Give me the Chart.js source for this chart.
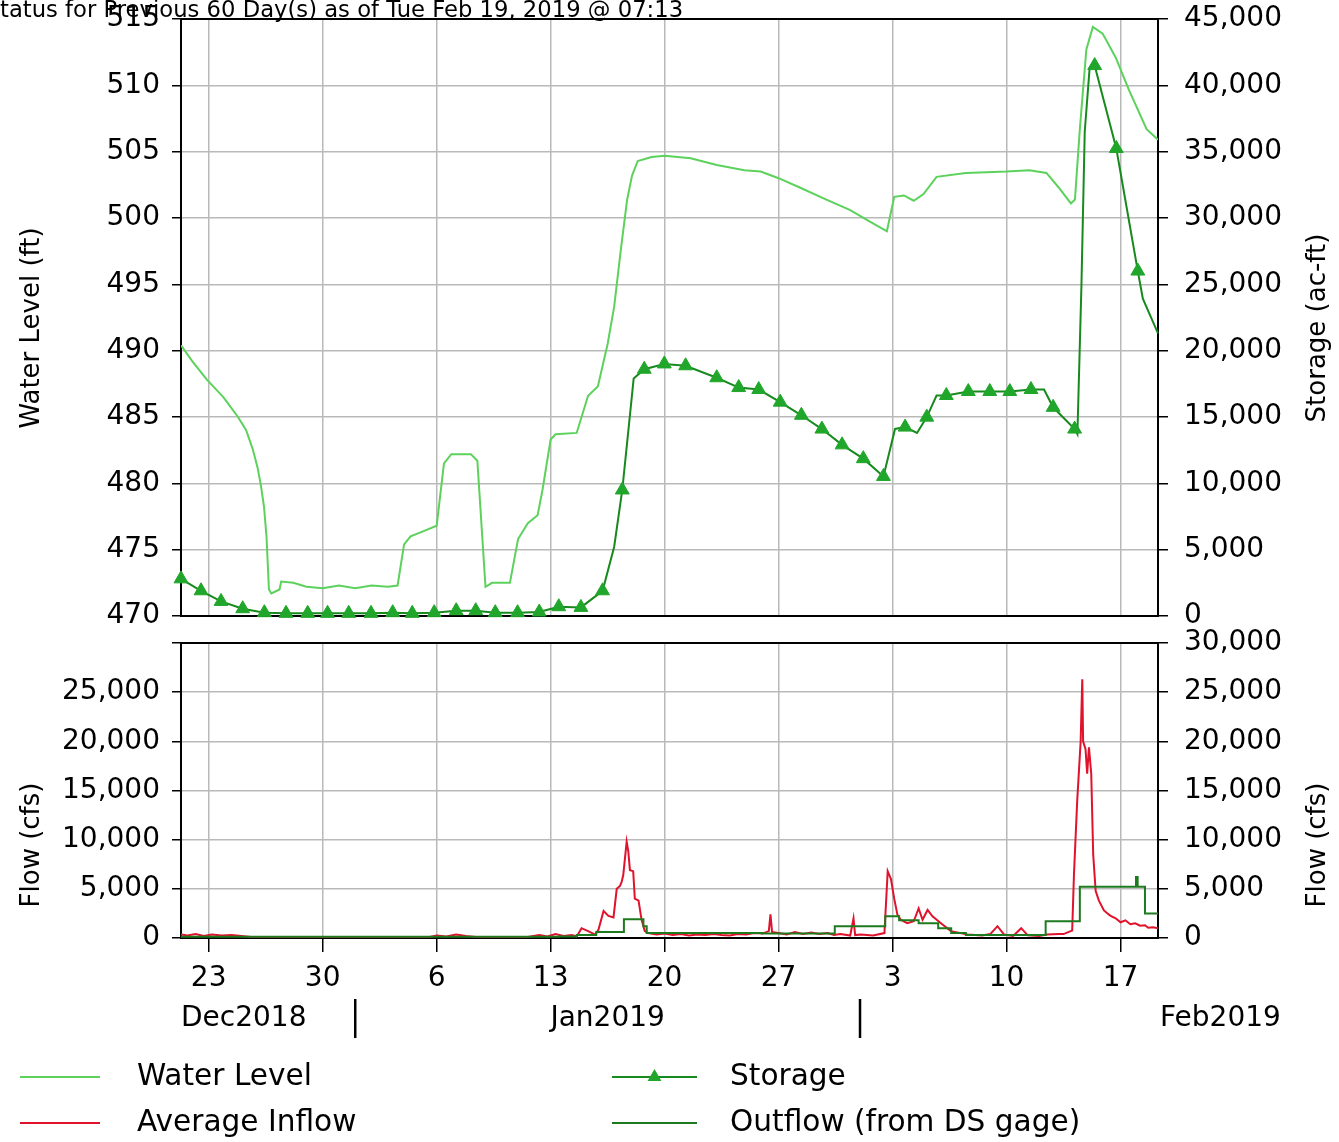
<!DOCTYPE html>
<html><head><meta charset="utf-8">
<script src="https://cdn.jsdelivr.net/npm/chart.js@4/dist/chart.umd.min.js"></script>
<style>
html,body{margin:0;padding:0;background:#fff;}
#wrap{position:relative;width:1339px;height:1142px;overflow:hidden;background:#fff;}
canvas{position:absolute;left:0;}
#cTop{top:0;}
#cBot{top:600px;}
</style></head><body>
<div id="wrap"><canvas id="cTop" width="1339" height="632"></canvas><canvas id="cBot" width="1339" height="542"></canvas></div>
<script>
// x values are day numbers: Dec d -> d, Jan d -> 31+d, Feb d -> 62+d
const titleText = 'Status for Previous 60 Day(s) as of Tue Feb 19, 2019 @ 07:13';
const xMin = 21.3, xMax = 81.3;
const xTickDays = [23, 30, 37, 44, 51, 58, 65, 72, 79];
const xTickLabels = ['23', '30', '6', '13', '20', '27', '3', '10', '17'];
const monthLabels = ['Dec2018', 'Jan2019', 'Feb2019'];
const monthStartDays = [32, 63];
const levelTicks = {min: 470, max: 515, step: 5};
const storageTicks = {min: 0, max: 45000, step: 5000};
const flowTicks = {min: 0, max: 30000, step: 5000};
const seriesNames = ['Water Level', 'Storage', 'Average Inflow', 'Outflow (from DS gage)'];

const waterLevelDays = [21.3,22.0,22.9,23.9,24.8,25.3,25.7,26.0,26.2,26.4,26.55,26.7,26.85,27.35,27.45,28.2,29.0,30.0,31.0,32.0,33.0,34.0,34.6,35.0,35.4,36.2,37.0,37.45,37.9,39.1,39.5,40.0,40.4,41.5,42.0,42.6,43.2,43.5,44.0,44.3,45.6,46.3,46.9,47.5,47.9,48.3,48.7,49.0,49.35,50.2,51.0,52.6,54.2,55.9,56.9,58.0,59.3,60.9,62.4,63.5,64.5,64.65,65.1,65.7,66.3,66.9,67.7,69.5,72.0,73.4,74.45,75.2,75.95,76.2,76.5,76.9,77.3,77.9,78.7,79.5,80.6,81.3];
const waterLevelFt = [490.4,489.2,487.8,486.5,485.0,484.0,482.6,481.2,479.9,478.2,476.0,472.0,471.7,472.0,472.6,472.5,472.2,472.1,472.3,472.1,472.3,472.2,472.3,475.4,476.0,476.4,476.8,481.5,482.2,482.2,481.7,472.2,472.5,472.5,475.8,477.0,477.6,479.5,483.3,483.7,483.8,486.6,487.3,490.5,493.3,497.5,501.4,503.2,504.3,504.6,504.7,504.5,504.0,503.6,503.5,503.0,502.3,501.4,500.6,499.8,499.1,499.0,501.6,501.7,501.3,501.8,503.1,503.4,503.5,503.6,503.4,502.3,501.1,501.4,506.7,512.7,514.4,513.9,512.1,509.7,506.7,505.9];

// storage readings shown with a triangle marker
const storageDays = [21.3,22.53,23.76,25.09,26.42,27.75,29.08,30.3,31.6,32.97,34.3,35.5,36.85,38.2,39.4,40.6,41.97,43.3,44.5,45.86,47.19,48.4,49.75,50.98,52.29,54.2,55.55,56.78,58.1,59.4,60.66,61.9,63.2,64.44,65.77,67.1,68.3,69.65,70.97,72.2,73.5,74.86,76.18,77.41,78.74,80.06];
const storageAcFt = [2800,1900,1100,550,250,200,200,200,200,200,250,200,250,400,400,250,250,300,700,650,1900,9500,18600,19000,18860,17960,17220,17070,16120,15130,14090,12900,11860,10520,14240,14990,16620,16920,16920,16920,17070,15730,14090,41490,35240,26000];
// storage readings between markers
const storageExtraDays = [47.9,49.1,65.15,66.5,67.7,74.3,76.35,76.6,76.8,77.1,80.37,81.3];
const storageExtraAcFt = [5200,17900,14100,13800,16620,17070,13700,25000,36500,41300,23920,21300];

const inflowDays = [21.3,21.7,22.2,22.7,23.2,23.8,24.4,25.0,25.6,26.3,28,30,32,34,36.5,37.0,37.6,38.2,38.8,39.4,40.5,42.5,43.3,43.8,44.3,44.8,45.3,45.6,45.9,46.3,46.74,46.94,47.25,47.55,47.86,48.06,48.26,48.36,48.46,48.67,48.77,48.87,49.07,49.17,49.4,49.58,49.78,50.0,50.5,51.0,51.5,52,52.5,53,53.5,54,54.5,55,55.5,56,56.5,57.0,57.4,57.5,57.6,58,58.5,59,59.5,60,60.5,61,61.4,61.8,62.4,62.6,62.7,63.05,63.8,64.5,64.7,64.9,65.1,65.3,65.5,65.9,66.3,66.6,66.84,67.15,67.45,67.97,68.58,69.6,70.5,71.0,71.44,71.85,72.4,72.9,73.3,74.0,74.5,75.2,75.5,75.94,76.03,76.14,76.34,76.55,76.65,76.7,76.85,76.95,77.06,77.2,77.32,77.47,77.67,77.98,78.2,78.39,78.7,79.0,79.3,79.6,79.9,80.2,80.5,80.7,81.0,81.3];
const inflowCfs = [350,250,400,200,350,250,300,200,100,50,30,40,30,50,80,250,150,350,200,100,50,80,300,150,400,200,300,150,1000,700,350,860,2750,2250,2100,5000,5300,5700,6400,9800,8800,6900,6800,4000,3800,1900,700,500,350,450,300,400,250,350,300,400,300,250,400,350,500,450,700,2400,600,500,350,600,400,550,400,500,300,400,250,2000,300,350,250,500,6800,6000,4000,2350,1850,1500,1700,3000,1850,2850,2200,1500,700,350,250,400,1200,350,200,1000,270,200,350,400,400,700,750,6500,14000,20000,26300,20000,19200,16700,19400,16700,8500,4800,3800,2800,2500,2250,2000,1600,1800,1400,1500,1250,1300,1050,1100,1000];

const outflowDays = [21.3,44.5,45.6,46.8,48.5,49.7,49.9,57.0,61.45,64.55,65.4,66.6,67.8,68.6,69.5,74.4,76.5,79.95,80.05,80.5,81.3];
const outflowCfs = [120,150,300,600,1900,1200,500,450,1200,2200,1800,1500,1000,500,300,1700,5200,6200,5200,2500,2500];

const COL = {level:'#5cd25c', storageLine:'#178a1e', storageMark:'#20a62a', inflow:'#e0122c', outflow:'#1e7a1e', grid:'#b9b9b9'};
const FONT = '"DejaVu Sans", sans-serif';
Chart.defaults.font.family = FONT;
Chart.defaults.color = '#000';

const zip = (xs, ys, extra) => xs.map((x, i) => Object.assign({x: x, y: ys[i]}, extra || {}));
const levelPts = zip(waterLevelDays, waterLevelFt);
const storagePts = zip(storageDays, storageAcFt, {mark: true})
  .concat(zip(storageExtraDays, storageExtraAcFt, {mark: false}))
  .sort((a, b) => a.x - b.x);
const inflowPts = zip(inflowDays, inflowCfs);
const outflowPts = zip(outflowDays, outflowCfs);
const fmt = v => Number(v).toLocaleString('en-US');
const noPad = s => { s.paddingTop = 0; s.paddingBottom = 0; s.paddingLeft = 0; s.paddingRight = 0; };

function xScale(h, extra) {
  return Object.assign({
    type: 'linear', min: xMin, max: xMax,
    afterBuildTicks: s => { s.ticks = xTickDays.map(v => ({value: v})); },
    afterFit: s => { s.height = h; noPad(s); },
    grid: {color: COL.grid, lineWidth: 1.5, tickColor: '#000', tickLength: 14},
    border: {display: false}
  }, extra);
}
function yScale(pos, t, extra) {
  return Object.assign({
    position: pos, min: t.min, max: t.max,
    afterBuildTicks: s => { const a = []; for (let v = t.min; v <= t.max + 1e-9; v += t.step) a.push({value: v}); s.ticks = a; },
    afterFit: s => { s.width = 181; noPad(s); },
    border: {display: false}
  }, extra);
}
function frame(chart) {
  const a = chart.chartArea, ctx = chart.ctx;
  ctx.save(); ctx.strokeStyle = '#000'; ctx.lineWidth = 2;
  ctx.strokeRect(a.left, a.top, a.right - a.left, a.bottom - a.top);
  ctx.restore();
}
function vText(ctx, txt, x, y, size) {
  ctx.save(); ctx.translate(x, y); ctx.rotate(-Math.PI / 2);
  ctx.font = size + 'px ' + FONT; ctx.fillStyle = '#000';
  ctx.textAlign = 'center'; ctx.textBaseline = 'middle';
  ctx.fillText(txt, 0, 0); ctx.restore();
}

const topDecor = {
  id: 'topDecor',
  beforeDatasetsDraw(chart) { frame(chart); },
  afterDraw(chart) {
    const ctx = chart.ctx;
    ctx.save();
    ctx.font = '22.7px ' + FONT; ctx.fillStyle = '#000';
    ctx.textAlign = 'left'; ctx.textBaseline = 'alphabetic';
    ctx.fillText(titleText, -ctx.measureText('S').width, 17);
    ctx.restore();
    vText(ctx, 'Water Level (ft)', 32, 328, 26);
    vText(ctx, 'Storage (ac-ft)', 1318, 328, 26);
  }
};

const botDecor = {
  id: 'botDecor',
  beforeDatasetsDraw(chart) { frame(chart); },
  afterDraw(chart) {
    const ctx = chart.ctx, a = chart.chartArea, xs = chart.scales.x;
    vText(ctx, 'Flow (cfs)', 32, a.bottom - 93, 26);
    vText(ctx, 'Flow (cfs)', 1318, a.bottom - 93, 26);
    ctx.save();
    ctx.font = '28px ' + FONT; ctx.fillStyle = '#000'; ctx.textBaseline = 'middle';
    const my = a.bottom + 81;
    const seps = monthStartDays.map(d => xs.getPixelForValue(d));
    ctx.strokeStyle = '#000'; ctx.lineWidth = 2.5;
    seps.forEach(px => { ctx.beginPath(); ctx.moveTo(px, my - 20); ctx.lineTo(px, my + 19); ctx.stroke(); });
    ctx.textAlign = 'left'; ctx.fillText(monthLabels[0], a.left, my);
    ctx.textAlign = 'center'; ctx.fillText(monthLabels[1], (seps[0] + seps[1]) / 2, my);
    ctx.textAlign = 'left'; ctx.fillText(monthLabels[2], a.right + 2, my);
    // legend
    ctx.font = '29.6px ' + FONT;
    const rows = [a.bottom + 139, a.bottom + 185];
    const cols = [{x0: 20, x1: 100, tx: 137}, {x0: 612, x1: 697, tx: 730}];
    const items = [
      {name: seriesNames[0], color: COL.level, col: 0, row: 0},
      {name: seriesNames[1], color: COL.storageLine, col: 1, row: 0, mark: true},
      {name: seriesNames[2], color: COL.inflow, col: 0, row: 1},
      {name: seriesNames[3], color: COL.outflow, col: 1, row: 1}
    ];
    items.forEach(it => {
      const c = cols[it.col], y = rows[it.row];
      ctx.strokeStyle = it.color; ctx.lineWidth = 2;
      ctx.beginPath(); ctx.moveTo(c.x0, y); ctx.lineTo(c.x1, y); ctx.stroke();
      if (it.mark) {
        const mx = (c.x0 + c.x1) / 2, r = 8;
        ctx.fillStyle = COL.storageMark;
        ctx.beginPath(); ctx.moveTo(mx, y - r); ctx.lineTo(mx + r * 0.866, y + r / 2); ctx.lineTo(mx - r * 0.866, y + r / 2); ctx.closePath(); ctx.fill();
      }
      ctx.fillStyle = '#000'; ctx.textAlign = 'left';
      ctx.fillText(it.name, c.tx, y);
    });
    ctx.restore();
  }
};

const tickFont = {family: FONT, size: 28};

new Chart(document.getElementById('cTop'), {
  type: 'line',
  data: {datasets: [
    {label: seriesNames[0], data: levelPts, yAxisID: 'yL', borderColor: COL.level, borderWidth: 2, pointRadius: 0, tension: 0},
    {label: seriesNames[1], data: storagePts, yAxisID: 'yR', borderColor: COL.storageLine, borderWidth: 2, tension: 0, clip: 12,
     pointStyle: 'triangle', pointRadius: c => (c.raw && c.raw.mark) ? 8 : 0,
     pointBackgroundColor: COL.storageMark, pointBorderColor: COL.storageMark, pointBorderWidth: 1}
  ]},
  options: {
    responsive: false, animation: false, events: [],
    layout: {padding: {top: 19, bottom: 16, left: 0, right: 0}},
    plugins: {legend: {display: false}, tooltip: {enabled: false}},
    scales: {
      x: xScale(0, {ticks: {display: false}, grid: {color: COL.grid, lineWidth: 1.5, drawTicks: false}}),
      yL: yScale('left', levelTicks, {ticks: {font: tickFont, padding: 12, color: '#000'},
        grid: {color: COL.grid, lineWidth: 1.5, tickColor: '#000', tickLength: 9}}),
      yR: yScale('right', storageTicks, {ticks: {font: tickFont, padding: 16, color: '#000', callback: v => fmt(v)},
        grid: {drawOnChartArea: false, tickColor: '#000', tickLength: 10, lineWidth: 1.5}})
    }
  },
  plugins: [topDecor]
});

new Chart(document.getElementById('cBot'), {
  type: 'line',
  data: {datasets: [
    {label: seriesNames[3], data: outflowPts, yAxisID: 'yL', borderColor: COL.outflow, borderWidth: 2, pointRadius: 0, stepped: true},
    {label: seriesNames[2], data: inflowPts, yAxisID: 'yL', borderColor: COL.inflow, borderWidth: 2, pointRadius: 0, tension: 0}
  ]},
  options: {
    responsive: false, animation: false, events: [],
    layout: {padding: {top: 43, bottom: 144, left: 0, right: 0}},
    plugins: {legend: {display: false}, tooltip: {enabled: false}},
    scales: {
      x: xScale(60, {ticks: {font: tickFont, color: '#000', padding: 10, autoSkip: false, maxRotation: 0,
        callback: v => xTickLabels[xTickDays.indexOf(v)]}}),
      yL: yScale('left', flowTicks, {ticks: {font: tickFont, padding: 12, color: '#000', callback: v => v >= flowTicks.max ? '' : fmt(v)},
        grid: {color: COL.grid, lineWidth: 1.5, tickColor: '#000', tickLength: 9}}),
      yR: yScale('right', flowTicks, {ticks: {font: tickFont, padding: 16, color: '#000', callback: v => fmt(v)},
        grid: {drawOnChartArea: false, tickColor: '#000', tickLength: 10, lineWidth: 1.5}})
    }
  },
  plugins: [botDecor]
});
</script>
</body></html>
